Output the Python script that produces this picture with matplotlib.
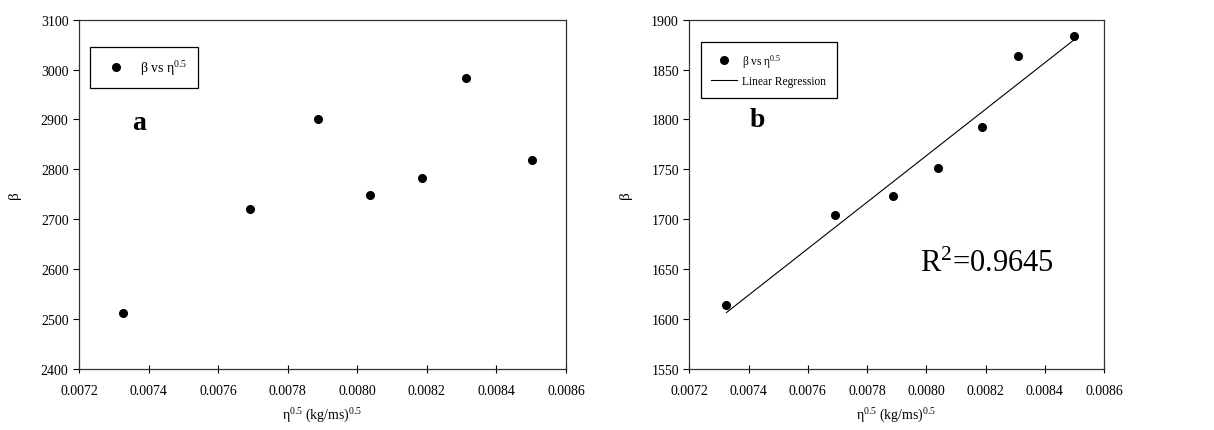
import matplotlib
matplotlib.use('Agg')
import matplotlib.pyplot as plt
import numpy as np

# Data
eta_a = [0.007325, 0.007692, 0.007886, 0.008037, 0.008186, 0.008314, 0.008503]
beta_a = [2512, 2720, 2900, 2749, 2783, 2983, 2818]

eta_b = [0.007325, 0.007693, 0.007887, 0.008039, 0.008187, 0.008311, 0.008499]
beta_b = [1614, 1704, 1723, 1751, 1792, 1864, 1884]

x_ticks = [0.0072, 0.0074, 0.0076, 0.0078, 0.0080, 0.0082, 0.0084, 0.0086]
y_ticks_a = [2400, 2500, 2600, 2700, 2800, 2900, 3000, 3100]
y_ticks_b = [1550, 1600, 1650, 1700, 1750, 1800, 1850, 1900]
r2_text = 'R$^2$=0.9645'

plt.rcParams['font.family'] = ['Liberation Serif', 'DejaVu Serif']
plt.rcParams['mathtext.fontset'] = 'custom'
plt.rcParams['mathtext.rm'] = 'Liberation Serif'
plt.rcParams['mathtext.it'] = 'Liberation Serif:italic'
plt.rcParams['mathtext.bf'] = 'Liberation Serif:bold'

fig = plt.figure(figsize=(12.14, 4.31), dpi=100)
ax1 = fig.add_axes([0.0651, 0.1415, 0.4011, 0.8105])
ax2 = fig.add_axes([0.5678, 0.1415, 0.3416, 0.8105])

leg_label = r'β vs η$^{0.5}$'
xlab = r'η$^{0.5}$ (kg/ms)$^{0.5}$'


def style_axes(ax, yticks):
    ax.set_xlim(x_ticks[0], x_ticks[-1])
    ax.set_ylim(yticks[0], yticks[-1])
    ax.set_xticks(x_ticks)
    ax.set_xticklabels(['%.4f' % t for t in x_ticks])
    ax.set_yticks(yticks)
    ax.tick_params(axis='x', direction='inout', length=6, width=0.8,
                   labelsize=10, pad=8, top=False)
    ax.tick_params(axis='y', direction='out', length=4.5, width=0.8,
                   labelsize=10, pad=3, right=False)
    for s in ax.spines.values():
        s.set_linewidth(0.9)
        s.set_color('#333333')
    ax.set_xlabel(xlab, fontsize=10, labelpad=6)
    ax.set_ylabel('β', fontsize=11, labelpad=14)


# panel a
ax1.plot(eta_a, beta_a, 'o', color='black', markersize=5.5, label=leg_label)
style_axes(ax1, y_ticks_a)
leg = ax1.legend(loc='upper left', bbox_to_anchor=(0.022, 0.922), fontsize=10,
                 fancybox=False, edgecolor='black', framealpha=1,
                 borderpad=0.8, handletextpad=0.6, handlelength=2.2,
                 borderaxespad=0)
leg.get_frame().set_linewidth(0.9)
ax1.text(0.123, 0.705, 'a', transform=ax1.transAxes, fontsize=20,
         fontweight='bold', ha='center', va='center')

# panel b
ax2.plot(eta_b, beta_b, 'o', color='black', markersize=5.5, label=leg_label)
coef = np.polyfit(eta_b, beta_b, 1)
xfit = np.array([eta_b[0], eta_b[-1]])
ax2.plot(xfit, np.polyval(coef, xfit), '-', color='black', linewidth=0.8,
         label='Linear Regression')
style_axes(ax2, y_ticks_b)
leg2 = ax2.legend(loc='upper left', bbox_to_anchor=(0.028, 0.937), fontsize=8.3,
                  fancybox=False, edgecolor='black', framealpha=1,
                  borderpad=0.9, handletextpad=0.5, handlelength=2.2,
                  labelspacing=0.5, borderaxespad=0)
leg2.get_frame().set_linewidth(0.9)
ax2.text(0.165, 0.715, 'b', transform=ax2.transAxes, fontsize=20,
         fontweight='bold', ha='center', va='center')
ax2.text(0.556, 0.281, r2_text, transform=ax2.transAxes, fontsize=22,
         ha='left', va='baseline')

fig.savefig('out.png', dpi=100)
